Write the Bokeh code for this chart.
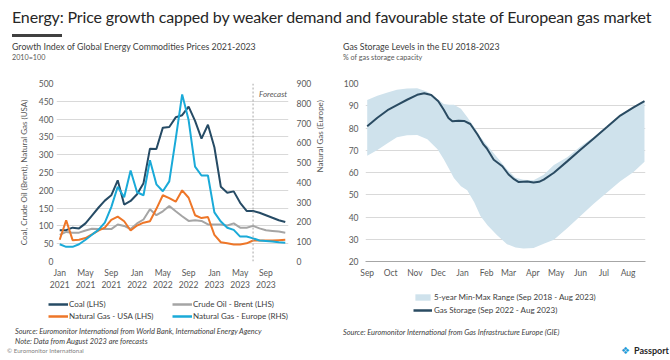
import math
import pandas as pd
from bokeh.plotting import figure
from bokeh.models import (Range1d, LinearAxis, FixedTicker, Span, Label,
                          Legend, LegendItem, Div, ColumnDataSource)
from bokeh.layouts import column, row
from bokeh.embed import file_html
from bokeh.resources import INLINE

FONT = "Lato"
NAN = float("nan")

# ---------------- Left chart data (index, 2010=100) ----------------
months = pd.date_range("2021-01-01", "2023-12-01", freq="MS")
coal = [88, 88, 95, 93, 107, 129, 151, 171, 186, 228, 160, 170,
        189, 220, 317, 316, 376, 378, 405, 411, 435, 395, 345, 384,
        321, 210, 193, 197, 165, 142, 142, 137, 130, 123, 116, 111]
brent = [75, 83, 81, 81, 87, 92, 91, 91, 91, 104, 100, 91,
         107, 118, 147, 130, 141, 156, 141, 127, 114, 116, 114, 104,
         104, 104, 101, 107, 95, 95, 100, 93, 88, 86, 84, 81]
gas_usa = [61, 116, 60, 61, 66, 76, 87, 95, 117, 126, 113, 87,
           101, 109, 113, 148, 186, 178, 168, 200, 179, 130, 122, 125,
           75, 54, 51, 48, 48, 51, 59, 59, 59, 59, 60, 61]
gas_europe = [87, 74, 74, 87, 110, 135, 160, 197, 275, 378, 325, 460,
              350, 335, 512, 390, 355, 405, 620, 845, 715, 480, 435, 435,
              248, 202, 171, 160, 126, 126, 117, 106, 104, 101, 97, 95]
last_actual_month = pd.Timestamp("2023-07-01")
left_ticks = list(range(0, 501, 50))
right_ticks = list(range(0, 901, 100))

# ---------------- Right chart data (% of capacity) ----------------
season_start = pd.Timestamp("2022-09-01")
storage_dates = ["2022-09-01", "2022-09-14", "2022-09-27", "2022-10-09", "2022-10-22",
                 "2022-11-04", "2022-11-13", "2022-11-22", "2022-12-01", "2022-12-08",
                 "2022-12-14", "2022-12-19", "2022-12-27", "2023-01-03", "2023-01-11",
                 "2023-01-20", "2023-01-28", "2023-02-01", "2023-02-10", "2023-02-21",
                 "2023-03-01", "2023-03-08", "2023-03-14", "2023-03-25", "2023-04-02",
                 "2023-04-09", "2023-04-15", "2023-04-28", "2023-05-15", "2023-06-01",
                 "2023-06-18", "2023-07-05", "2023-07-22", "2023-08-08", "2023-08-22"]
storage_pct = [80.8, 84.6, 88.0, 90.3, 92.7, 94.9, 95.6, 94.8, 92.0, 88.2,
               84.5, 83.0, 83.3, 83.2, 81.8, 77.2, 72.5, 70.9, 65.7, 62.8,
               59.1, 57.0, 55.7, 56.0, 55.5, 55.8, 56.8, 59.9, 65.0, 70.2,
               75.3, 80.4, 85.6, 89.3, 92.1]
range_dates = ["2022-09-01", "2022-09-14", "2022-09-27", "2022-10-09", "2022-10-22",
               "2022-11-04", "2022-11-17", "2022-11-30", "2022-12-08", "2022-12-15",
               "2022-12-21", "2022-12-30", "2023-01-07", "2023-01-16", "2023-01-24",
               "2023-02-02", "2023-02-14", "2023-02-27", "2023-03-10", "2023-03-20",
               "2023-04-02", "2023-04-15", "2023-04-28", "2023-05-15", "2023-06-01",
               "2023-06-18", "2023-07-05", "2023-07-22", "2023-08-08", "2023-08-22"]
range_min = [67.5, 70.1, 73.2, 75.8, 76.7, 76.8, 75.0, 70.5, 66.0, 61.5,
             57.5, 53.8, 52.0, 46.6, 40.5, 36.3, 31.9, 27.8, 26.3, 25.8,
             26.1, 28.0, 29.8, 34.9, 40.5, 45.9, 51.0, 56.1, 60.2, 64.8]
range_max = [92.6, 94.5, 96.0, 97.2, 97.8, 97.9, 96.3, 93.0, 90.8, 90.4,
             90.4, 88.6, 84.9, 80.4, 76.0, 72.0, 67.0, 61.5, 57.6, 56.7,
             56.5, 59.0, 63.4, 66.8, 71.7, 76.0, 81.0, 86.0, 89.5, 92.2]
storage_ticks_y = list(range(20, 101, 10))

# ---------------- Styles ----------------
C_COAL = "#264B65"
C_BRENT = "#A5A5A5"
C_USA = "#EE7628"
C_EU = "#1AAAD8"
C_BAND = "#CFE2EC"
C_STORE = "#2A4B62"
C_GRID = "#D9D9D9"
C_TICK = "#595959"
C_TEXT = "#404040"


def style_axis(ax, standoff):
    ax.axis_line_color = None
    ax.major_tick_line_color = None
    ax.minor_tick_line_color = None
    ax.major_tick_out = 0
    ax.major_tick_in = 0
    ax.minor_tick_out = 0
    ax.minor_tick_in = 0
    ax.major_label_standoff = standoff
    ax.major_label_text_font = FONT
    ax.major_label_text_font_size = "8.5px"
    ax.major_label_text_color = C_TICK
    ax.axis_label_text_font = FONT
    ax.axis_label_text_font_size = "8px"
    ax.axis_label_text_font_style = "normal"
    ax.axis_label_text_color = C_TICK


# ---------------- Left figure ----------------
m_idx = list(range(len(months)))
src = ColumnDataSource(dict(m=m_idx, coal=coal, brent=brent, usa=gas_usa, eu=gas_europe))

p1 = figure(width=335, height=220, title=None,
            x_range=Range1d(-0.5, len(months) - 0.5), y_range=Range1d(0, 500),
            output_backend="svg", toolbar_location=None,
            min_border_left=56, min_border_right=47, min_border_top=13, min_border_bottom=27)
p1.outline_line_color = None
p1.border_fill_color = "white"
p1.xgrid.visible = False
p1.ygrid.ticker = FixedTicker(ticks=left_ticks)
p1.ygrid.grid_line_color = C_GRID
p1.extra_y_ranges = {"eu": Range1d(0, 900)}

p1.yaxis.ticker = FixedTicker(ticks=left_ticks)
p1.yaxis.axis_label = "Coal, Crude Oil (Brent), Natural Gas (USA)"
style_axis(p1.yaxis[0], 3)
p1.yaxis[0].axis_label_standoff = 7

tick_pos = m_idx[::4]
p1.xaxis.ticker = FixedTicker(ticks=tick_pos)
p1.xaxis.major_label_overrides = {i: f"{months[i]:%b}" for i in tick_pos}
style_axis(p1.xaxis[0], 6)
ax_year = LinearAxis(ticker=FixedTicker(ticks=tick_pos),
                     major_label_overrides={i: f"{months[i]:%Y}" for i in tick_pos})
style_axis(ax_year, 0)
p1.add_layout(ax_year, "below")

ax_r = LinearAxis(y_range_name="eu", ticker=FixedTicker(ticks=right_ticks),
                  axis_label="Natural Gas (Europe)")
style_axis(ax_r, 8)
ax_r.axis_label_standoff = 6
try:
    ax_r.axis_label_orientation = math.pi / 2
except Exception:
    pass
p1.add_layout(ax_r, "right")

p1.line("m", "coal", source=src, line_color=C_COAL, line_width=2)
p1.line("m", "brent", source=src, line_color=C_BRENT, line_width=2)
p1.line("m", "usa", source=src, line_color=C_USA, line_width=2)
p1.line("m", "eu", source=src, y_range_name="eu", line_color=C_EU, line_width=2)

fc_idx = list(months).index(last_actual_month)
p1.add_layout(Span(location=fc_idx, dimension="height", line_color="#A6A6A6",
                   line_dash="2 2", line_width=1))
p1.add_layout(Label(x=fc_idx, y=471, x_offset=6, text="Forecast", text_font=FONT,
                    text_font_size="8px", text_font_style="italic", text_color=C_TICK,
                    text_baseline="middle"))

# ---------------- Right figure ----------------
start = season_start
s_days = [(pd.Timestamp(d) - start).days for d in storage_dates]
r_days = [(pd.Timestamp(d) - start).days for d in range_dates]
month_starts = pd.date_range(start, "2023-08-01", freq="MS")
m_ticks = [(d - start).days for d in month_starts]

p2 = figure(width=333, height=220, title=None,
            x_range=Range1d(-2.2, 356.3), y_range=Range1d(20, 100),
            output_backend="svg", toolbar_location=None,
            min_border_left=30, min_border_right=23, min_border_top=13, min_border_bottom=26)
p2.outline_line_color = None
p2.border_fill_color = "white"
p2.xgrid.visible = False
p2.ygrid.ticker = FixedTicker(ticks=storage_ticks_y)
p2.ygrid.grid_line_color = C_GRID
p2.yaxis.ticker = FixedTicker(ticks=storage_ticks_y)
style_axis(p2.yaxis[0], 7)
p2.xaxis.ticker = FixedTicker(ticks=m_ticks)
p2.xaxis.major_label_overrides = {t: d.strftime("%b") for t, d in zip(m_ticks, month_starts)}
style_axis(p2.xaxis[0], 6)
p2.xaxis.axis_line_color = "#A6A6A6"

p2.varea(x=r_days, y1=range_min, y2=range_max, fill_color=C_BAND)
p2.line(x=s_days, y=storage_pct, line_color=C_STORE, line_width=2)

# ---------------- Legend strip (one canvas under both charts) ----------------
lg = figure(width=668, height=33, title=None, x_range=Range1d(0, 1), y_range=Range1d(0, 1),
            x_axis_type=None, y_axis_type=None, output_backend="svg", toolbar_location=None,
            min_border=0, min_border_left=0, min_border_right=0,
            min_border_top=0, min_border_bottom=0)
lg.outline_line_color = None
lg.border_fill_color = "white"
lg.background_fill_color = "white"

k_coal = lg.line(x=[NAN], y=[NAN], line_color=C_COAL, line_width=2.5)
k_brent = lg.line(x=[NAN], y=[NAN], line_color=C_BRENT, line_width=2.5)
k_usa = lg.line(x=[NAN], y=[NAN], line_color=C_USA, line_width=2.5)
k_eu = lg.line(x=[NAN], y=[NAN], line_color=C_EU, line_width=2.5)
k_band = lg.varea(x=[NAN], y1=[NAN], y2=[NAN], fill_color=C_BAND)
k_store = lg.line(x=[NAN], y=[NAN], line_color=C_STORE, line_width=2.5)

leg_common = dict(spacing=0, padding=0, margin=0, label_text_font=FONT,
                  label_text_font_size="8px", label_text_color=C_TEXT,
                  border_line_color=None, background_fill_alpha=0)
leg1 = Legend(items=[LegendItem(label="Coal (LHS)", renderers=[k_coal]),
                     LegendItem(label="Crude Oil - Brent (LHS)", renderers=[k_brent]),
                     LegendItem(label="Natural Gas - USA (LHS)", renderers=[k_usa]),
                     LegendItem(label="Natural Gas - Europe (RHS)", renderers=[k_eu])],
              location=(48, 1), orientation="horizontal", nrows=2,
              glyph_width=20, glyph_height=12, label_height=12, label_width=103,
              label_standoff=1, **leg_common)
leg2 = Legend(items=[LegendItem(label="5-year Min-Max Range (Sep 2018 - Aug 2023)", renderers=[k_band]),
                     LegendItem(label="Gas Storage (Sep 2022 - Aug 2023)", renderers=[k_store])],
              location=(413, 7), orientation="vertical",
              glyph_width=19, glyph_height=8, label_height=13,
              label_standoff=2, **leg_common)
lg.add_layout(leg1)
lg.add_layout(leg2)

# ---------------- Header & footer ----------------
title = "Energy: Price growth capped by weaker demand and favourable state of European gas market"
sub_l = "Growth Index of Global Energy Commodities Prices 2021-2023"
unit_l = "2010=100"
sub_r = "Gas Storage Levels in the EU 2018-2023"
unit_r = "% of gas storage capacity"
src_l1 = "Source: Euromonitor International from World Bank, International Energy Agency"
src_l2 = "Note: Data from August 2023 are forecasts"
src_r = "Source: Euromonitor International from Gas Infrastructure Europe (GIE)"

A = "position:absolute;white-space:nowrap;"
header_html = f"""
<div style="position:relative;width:668px;height:70px;font-family:{FONT};color:{C_TEXT};">
 <div style="{A}left:12px;top:7px;font-size:16px;line-height:20px;letter-spacing:-0.15px;color:#262626;">{title}</div>
 <div style="{A}left:12px;top:34px;width:50px;height:3px;background:#404040;"></div>
 <div style="{A}left:12px;top:42px;font-size:8.8px;line-height:10px;">{sub_l}</div>
 <div style="{A}left:12px;top:53px;font-size:7.2px;line-height:10px;color:#595959;">{unit_l}</div>
 <div style="{A}left:343px;top:42px;font-size:8.8px;line-height:10px;">{sub_r}</div>
 <div style="{A}left:343px;top:53px;font-size:7.2px;line-height:10px;color:#595959;">{unit_r}</div>
</div>"""
footer_html = f"""
<div style="position:relative;width:668px;height:35px;font-family:{FONT};color:{C_TEXT};">
 <div style="{A}left:15px;top:4px;font-size:7.4px;line-height:9px;font-style:italic;">{src_l1}</div>
 <div style="{A}left:15px;top:14px;font-size:7.4px;line-height:9px;font-style:italic;">{src_l2}</div>
 <div style="{A}left:7px;top:24px;font-size:6.2px;line-height:8px;color:#7F7F7F;">&copy; Euromonitor International</div>
 <div style="{A}left:343px;top:5px;font-size:7.4px;line-height:9px;font-style:italic;">{src_r}</div>
 <div style="{A}left:621px;top:23px;font-size:10px;line-height:10px;color:#1E9BD7;font-family:'DejaVu Sans';">&#10070;</div>
 <div style="{A}left:634px;top:23px;font-size:9px;line-height:10px;font-weight:bold;color:#262626;">Passport</div>
</div>"""

header = Div(text=header_html, width=668, height=70, margin=0)
footer = Div(text=footer_html, width=668, height=35, margin=0)

layout = column(header, row(p1, p2, spacing=0), lg, footer, spacing=0)

with open("out.html", "w", encoding="utf-8") as f:
    f.write(file_html(layout, INLINE))
